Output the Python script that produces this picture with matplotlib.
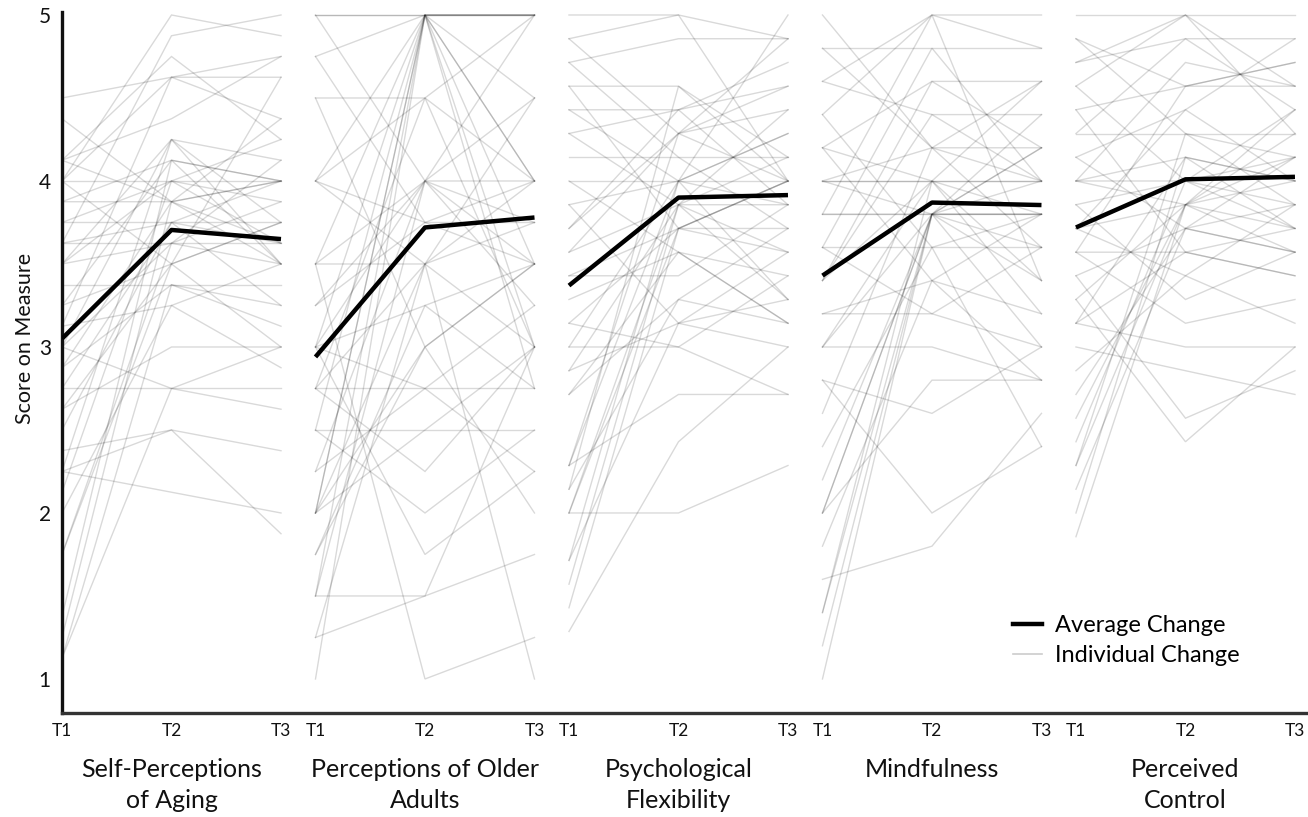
import matplotlib
matplotlib.use("Agg")
import matplotlib.pyplot as plt
from matplotlib.lines import Line2D

plt.rcParams['font.family'] = ['Lato', 'DejaVu Sans']

measures = ["Self-Perceptions\nof Aging", "Perceptions of Older\nAdults",
            "Psychological\nFlexibility", "Mindfulness", "Perceived\nControl"]
time_labels = ["T1", "T2", "T3"]

avg_self_perceptions = [3.05, 3.705, 3.65]
avg_older_adults = [2.94, 3.72, 3.78]
avg_flexibility = [3.37, 3.90, 3.915]
avg_mindfulness = [3.43, 3.87, 3.855]
avg_control = [3.72, 4.01, 4.025]

ind_self_perceptions = [
    (4.5, 4.625, 4.75), (4.0, 5.0, 4.875), (3.625, 4.875, 5.0), (4.125, 4.75, 4.25),
    (4.0, 4.625, 4.625), (4.125, 4.375, 4.75), (3.5, 4.25, 4.125), (3.0, 4.25, 3.75),
    (2.25, 4.25, 3.5), (3.875, 4.125, 4.0), (1.375, 4.125, 3.5), (4.0, 4.0, 4.0),
    (2.125, 4.0, 3.875), (3.625, 3.75, 3.75), (3.875, 3.875, 4.375), (1.25, 3.875, 3.625),
    (3.75, 3.75, 4.0), (2.75, 3.75, 3.25), (1.75, 3.625, 3.875), (3.5, 3.625, 3.5),
    (3.25, 3.5, 4.625), (2.625, 3.5, 3.0), (1.125, 3.375, 3.25), (3.375, 3.375, 3.375),
    (2.0, 3.25, 3.5), (3.125, 3.25, 2.875), (2.625, 3.0, 3.0), (1.125, 2.75, 3.0),
    (2.75, 2.75, 2.75), (3.0, 2.75, 2.625), (2.375, 2.5, 2.375), (2.25, 2.5, 1.875),
    (2.25, 2.125, 2.0), (4.125, 3.875, 3.5), (3.75, 4.0, 3.625), (2.875, 3.875, 4.0),
    (1.75, 3.5, 3.75), (3.0, 3.625, 4.125), (2.5, 3.75, 3.625), (3.25, 4.125, 4.0),
    (4.0, 3.5, 3.75), (2.875, 3.375, 3.125), (3.5, 4.0, 4.25), (4.375, 3.875, 4.0),
    (3.125, 4.625, 4.375), (3.625, 3.625, 3.625),
]
ind_older_adults = [
    (5.0, 5.0, 5.0), (4.5, 4.5, 4.0), (4.75, 5.0, 5.0), (5.0, 4.0, 4.5),
    (4.0, 5.0, 4.0), (4.0, 4.5, 5.0), (3.5, 5.0, 3.5), (3.0, 5.0, 4.5),
    (1.5, 5.0, 5.0), (1.0, 5.0, 3.0), (2.0, 5.0, 2.75), (2.5, 5.0, 4.0),
    (3.5, 4.0, 5.0), (3.25, 4.0, 3.75), (4.0, 3.5, 3.0), (2.75, 3.5, 4.0),
    (1.5, 4.0, 3.5), (1.25, 3.5, 4.5), (3.0, 3.25, 2.75), (2.0, 3.0, 3.5),
    (2.75, 2.75, 2.75), (2.5, 2.5, 2.5), (2.75, 2.25, 3.0), (2.5, 2.0, 2.5),
    (3.0, 1.75, 2.25), (1.5, 1.5, 3.0), (1.25, 1.5, 1.75), (3.5, 1.0, 1.25),
    (2.0, 3.5, 1.0), (1.75, 3.0, 2.0), (3.0, 4.0, 3.25), (4.5, 3.0, 3.5),
    (2.25, 2.75, 3.25), (3.25, 3.75, 4.0), (2.75, 4.5, 3.0), (3.5, 3.5, 3.75),
    (2.0, 2.5, 3.0), (1.75, 3.25, 3.5), (3.0, 2.75, 2.25), (4.0, 3.75, 3.75),
    (2.25, 4.0, 4.0), (4.75, 3.75, 3.5), (5.0, 5.0, 5.0), (2.0, 5.0, 5.0),
]
ind_flexibility = [
    (5.0, 5.0, 4.857), (4.857, 5.0, 4.0), (4.714, 4.857, 4.857), (4.857, 4.286, 4.571),
    (4.571, 4.571, 4.143), (2.143, 4.571, 4.0), (4.429, 4.429, 4.571), (4.286, 4.429, 4.714),
    (3.714, 4.286, 4.857), (4.143, 4.143, 4.143), (4.0, 4.0, 4.0), (3.857, 4.0, 4.286),
    (3.571, 3.857, 3.857), (3.429, 3.714, 3.714), (3.286, 3.571, 3.429), (3.143, 3.714, 4.0),
    (3.0, 4.0, 3.857), (2.857, 3.857, 4.429), (2.714, 3.571, 3.143), (2.286, 4.286, 4.0),
    (2.0, 3.857, 3.571), (1.714, 4.0, 3.286), (1.571, 3.857, 4.143), (1.429, 3.714, 3.571),
    (1.286, 2.429, 3.0), (2.0, 2.0, 2.286), (2.286, 2.714, 2.714), (3.0, 3.0, 2.714),
    (2.857, 3.143, 3.0), (2.714, 3.286, 3.143), (4.0, 3.571, 3.143), (4.286, 3.857, 3.286),
    (4.714, 4.143, 3.714), (3.857, 3.143, 3.571), (3.429, 3.429, 3.857), (4.571, 3.714, 4.0),
    (2.143, 3.286, 3.714), (3.714, 4.429, 3.857), (3.143, 3.0, 3.429), (4.429, 4.0, 4.286),
    (2.0, 3.714, 4.0), (3.571, 4.286, 4.429), (1.714, 3.143, 3.286), (2.286, 4.0, 5.0),
]
ind_mindfulness = [
    (5.0, 4.2, 4.0), (4.8, 4.8, 4.8), (4.6, 5.0, 5.0), (4.4, 5.0, 4.8),
    (3.8, 5.0, 3.4), (3.4, 4.6, 4.6), (4.2, 4.6, 4.2), (4.6, 4.4, 4.4),
    (4.0, 4.2, 4.6), (4.0, 4.0, 4.0), (4.0, 4.0, 4.0), (4.2, 4.0, 3.8),
    (3.8, 3.8, 3.8), (3.8, 3.8, 4.2), (2.0, 3.8, 4.0), (1.4, 3.8, 3.6),
    (1.2, 3.8, 3.0), (1.0, 3.8, 3.4), (2.2, 3.8, 4.2), (2.4, 3.6, 3.8),
    (3.6, 3.6, 3.6), (3.2, 3.4, 2.8), (3.0, 3.8, 4.4), (2.8, 2.6, 3.0),
    (2.8, 2.0, 2.4), (1.6, 1.8, 2.6), (3.0, 3.0, 2.8), (2.0, 2.8, 2.8),
    (3.4, 4.4, 4.0), (1.4, 4.0, 3.4), (3.2, 3.2, 3.6), (4.4, 3.6, 2.4),
    (3.6, 4.8, 4.0), (1.8, 3.4, 3.8), (3.0, 4.0, 3.2), (4.2, 3.4, 3.2),
    (4.8, 4.2, 3.6), (3.6, 3.2, 3.0), (2.6, 4.2, 4.2), (3.4, 4.0, 4.6),
    (4.0, 3.8, 3.8), (2.0, 3.8, 3.8),
]
ind_control = [
    (5.0, 5.0, 5.0), (4.714, 5.0, 4.571), (4.857, 4.571, 4.714), (4.714, 4.857, 4.857),
    (4.571, 5.0, 4.286), (4.429, 4.571, 4.714), (4.286, 4.857, 4.429), (4.286, 4.286, 4.286),
    (4.143, 4.429, 4.857), (4.0, 4.143, 4.0), (4.143, 3.714, 3.571), (3.857, 4.0, 4.143),
    (4.0, 3.857, 4.429), (3.714, 3.857, 3.714), (3.571, 3.571, 3.714), (3.429, 3.714, 3.857),
    (3.286, 3.857, 4.143), (3.143, 4.143, 3.714), (3.0, 2.857, 2.714), (3.429, 2.571, 2.857),
    (3.286, 2.429, 3.0), (2.857, 3.429, 3.143), (2.571, 3.857, 4.0), (2.429, 4.0, 3.857),
    (2.286, 3.857, 3.571), (2.286, 4.286, 3.857), (2.143, 3.714, 4.143), (2.0, 4.143, 4.0),
    (1.857, 3.857, 4.286), (3.714, 4.429, 4.0), (4.429, 3.571, 3.429), (3.857, 3.286, 3.571),
    (3.571, 3.143, 3.286), (3.143, 3.0, 3.0), (4.571, 4.0, 3.714), (4.0, 4.714, 4.571),
    (3.714, 3.429, 3.857), (4.857, 4.286, 4.143), (3.143, 3.571, 3.429), (2.714, 3.714, 3.571),
    (4.0, 4.0, 4.429), (3.571, 4.571, 4.571),
]

individual = [ind_self_perceptions, ind_older_adults, ind_flexibility,
              ind_mindfulness, ind_control]
averages = [avg_self_perceptions, avg_older_adults, avg_flexibility,
            avg_mindfulness, avg_control]

W, H = 1308, 817
fig = plt.figure(figsize=(W / 100, H / 100), dpi=100)
ax = fig.add_axes([62 / W, 104 / H, 1 - 62 / W, 701 / H])

period = 2.315
t_pos = [0, 1, 2]

for p, (inds, avg) in enumerate(zip(individual, averages)):
    xs = [p * period + t for t in t_pos]
    for row in inds:
        ax.plot(xs, row, color='black', alpha=0.15, lw=1.0,
                solid_joinstyle='miter', zorder=2)
    ax.plot(xs, avg, color='black', lw=3.2, zorder=4, solid_capstyle='butt')
    ax.text(p * period + 1, -0.064, measures[p], transform=ax.get_xaxis_transform(),
            ha='center', va='top', fontsize=18, linespacing=1.42, color='#111111')

ax.set_xlim(0, (W - 62) / 109.5)
ax.set_ylim(0.795, 5.018)

xt = [p * period + t for p in range(5) for t in t_pos]
ax.set_xticks(xt)
ax.set_xticklabels(time_labels * 5, fontsize=12.5, color='#111111')
ax.set_yticks([1, 2, 3, 4, 5])
ax.set_yticklabels(['1', '2', '3', '4', '5'], fontsize=15, color='#111111')
ax.tick_params(axis='both', length=0)
ax.tick_params(axis='x', pad=7)
ax.tick_params(axis='y', pad=8)

for s in ['top', 'right']:
    ax.spines[s].set_visible(False)
ax.spines['left'].set_linewidth(2.4)
ax.spines['left'].set_color('#111111')
ax.spines['bottom'].set_linewidth(2.4)
ax.spines['bottom'].set_color('#333333')

ax.set_ylabel('Score on Measure', fontsize=15.5, color='#111111')
ax.yaxis.set_label_coords(-0.0215, 0.534)

handles = [Line2D([0], [0], color='black', lw=3.2),
           Line2D([0], [0], color='black', alpha=0.2, lw=1.2)]
fig.legend(handles, ['Average Change', 'Individual Change'],
           loc='upper left', bbox_to_anchor=(992 / W, 1 - 594 / H),
           frameon=False, fontsize=17, handlelength=1.2, handletextpad=0.55,
           labelspacing=0.38, borderpad=0.4)

fig.savefig('out.png', dpi=100)
